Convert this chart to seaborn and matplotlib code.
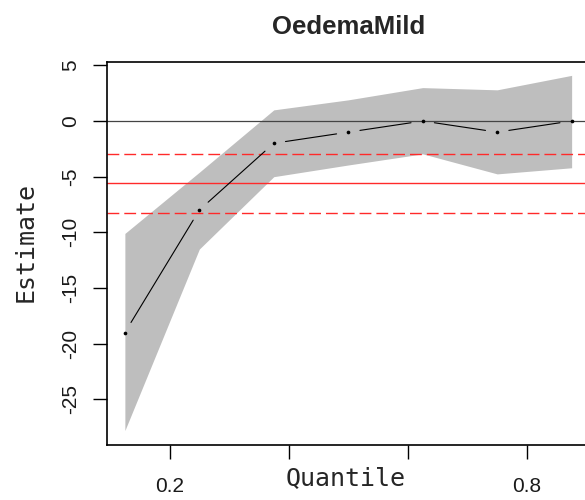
import matplotlib
matplotlib.use("Agg")
import matplotlib.pyplot as plt
import pandas as pd
import seaborn as sns

# Quantile regression coefficient for OedemaMild across quantiles
quantiles = [0.125, 0.25, 0.375, 0.5, 0.625, 0.75, 0.875]
estimate = [-19, -8, -2, -1, 0, -1, 0]
ci_lower = [-27.8, -11.5, -5.0, -3.95, -2.95, -4.75, -4.2]
ci_upper = [-10.1, -4.6, 1.0, 1.9, 3.0, 2.8, 4.1]

# OLS coefficient and its confidence bounds
ols_estimate = -5.58
ols_ci = [-8.23, -2.93]

x_ticks = [0.2, 0.4, 0.6, 0.8]
x_tick_labels = ["0.2", "", "", "0.8"]
y_ticks = [-25, -20, -15, -10, -5, 0, 5]
y_tick_labels = ["-25", "-20", "-15", "-10", "-5", "0", "5"]

sns.set_style("white")
plt.rcParams["font.family"] = ["Liberation Sans", "DejaVu Sans"]

df = pd.DataFrame({"tau": quantiles, "coef": estimate,
                   "lo": ci_lower, "hi": ci_upper})

fig = plt.figure(figsize=(5.85, 5.0), dpi=100)
ax = fig.add_axes([107 / 585, 1 - 445 / 500, (589.5 - 107) / 585, (445 - 62) / 500])

# confidence band
ax.fill_between(df["tau"], df["lo"], df["hi"], color="#bebebe", lw=0, zorder=1)

# reference lines
ax.axhline(0, color="#444444", lw=0.9, zorder=2)
ax.axhline(ols_estimate, color="#ff2a2a", lw=1.0, zorder=2)
for b in ols_ci:
    ax.axhline(b, color="#ff2a2a", lw=1.0, ls=(0, (8.5, 3.6)), zorder=2)

# estimate: points joined by segments that stop short of each point
sns.scatterplot(data=df, x="tau", y="coef", ax=ax, color="black",
                s=7, linewidth=0, zorder=4, legend=False)
for i in range(len(df) - 1):
    ax.annotate("", xy=(df["tau"][i + 1], df["coef"][i + 1]),
                xytext=(df["tau"][i], df["coef"][i]),
                arrowprops=dict(arrowstyle="-", color="black", lw=0.8,
                                shrinkA=8.5, shrinkB=8.5),
                zorder=3)

ax.set_xlim(0.095, 0.905)
ax.set_ylim(-29.1, 5.3)

ax.set_xticks(x_ticks)
ax.set_xticklabels(x_tick_labels)
ax.set_yticks(y_ticks)
ax.set_yticklabels(y_tick_labels, rotation=90, va="center")
ax.tick_params(axis="both", which="major", direction="out", length=10,
               width=1.0, color="black", labelsize=15, labelcolor="#1a1a1a",
               left=True, bottom=True)
ax.tick_params(axis="x", pad=13)
ax.tick_params(axis="y", pad=9)

for s in ax.spines.values():
    s.set_color("black")
    s.set_linewidth(1.2)

ax.set_title("OedemaMild", fontsize=18.5, fontweight="bold", pad=20)

ax.set_xlabel("Quantile", family=["DejaVu Sans Mono"], fontsize=18)
ax.xaxis.set_label_coords(0.495, -0.055)
ax.set_ylabel("Estimate", family=["DejaVu Sans Mono"], fontsize=18)
ax.yaxis.label.set_va("center")
ax.yaxis.set_label_coords(-0.168, 0.53)

fig.savefig("out.png", dpi=100)
